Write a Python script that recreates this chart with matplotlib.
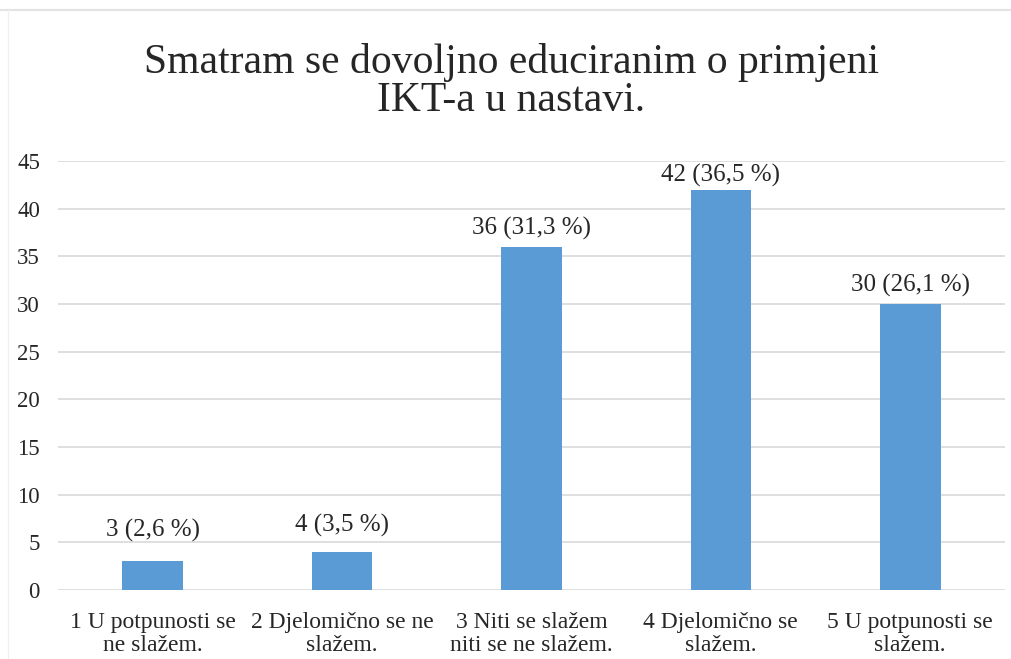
import matplotlib
matplotlib.use("Agg")
import matplotlib.pyplot as plt

categories = ["1 U potpunosti se\nne slažem.", "2 Djelomično se ne\nslažem.",
              "3 Niti se slažem\nniti se ne slažem.", "4 Djelomično se\nslažem.",
              "5 U potpunosti se\nslažem."]
counts = [3, 4, 36, 42, 30]
percents = ["2,6", "3,5", "31,3", "36,5", "26,1"]
yticks = [0, 5, 10, 15, 20, 25, 30, 35, 40, 45]

# labels in the original were nudged by hand, so gap above each bar differs (points)
label_gap = [14, 11, 5, 2, 5]

plt.rcParams["font.family"] = "serif"
plt.rcParams["font.serif"] = ["Liberation Serif", "Times New Roman", "DejaVu Serif"]

fig = plt.figure(figsize=(10.12, 6.59), dpi=100)
ax = fig.add_axes([0.0573, 0.1047, 0.9357, 0.651])

x = range(len(categories))
ax.bar(x, counts, width=0.32, color="#5B9BD5", zorder=3)

for i, (c, p) in enumerate(zip(counts, percents)):
    ax.annotate(f"{c} ({p} %)", (i, c), xytext=(0, label_gap[i]), textcoords="offset points",
                ha="center", va="bottom", fontsize=18, color="#262626")

ax.set_xlim(-0.5, len(categories) - 0.5)
ax.set_ylim(0, 45)
ax.set_yticks(yticks)
ax.set_xticks(list(x))
ax.set_xticklabels(categories, fontsize=17, color="#262626", linespacing=1.12)
ax.tick_params(axis="y", labelsize=16.5, labelcolor="#262626", length=0, pad=13)
ax.tick_params(axis="x", length=0, pad=16)
ax.grid(axis="y", color="#D9D9D9", linewidth=1.2, zorder=0)
for s in ax.spines.values():
    s.set_visible(False)

fig.text(0.505, 0.876, "Smatram se dovoljno educiranim o primjeni\nIKT-a u nastavi.",
         ha="center", va="center", fontsize=30, color="#262626", linespacing=1.0)

# faint frame lines from the screenshot
fig.add_artist(plt.Line2D([0, 1], [0.985, 0.985], color="#E3E3E3", linewidth=1.5))
fig.add_artist(plt.Line2D([0.008, 0.008], [0, 0.985], color="#F0F0F0", linewidth=1))

fig.savefig("out.png", dpi=100)
